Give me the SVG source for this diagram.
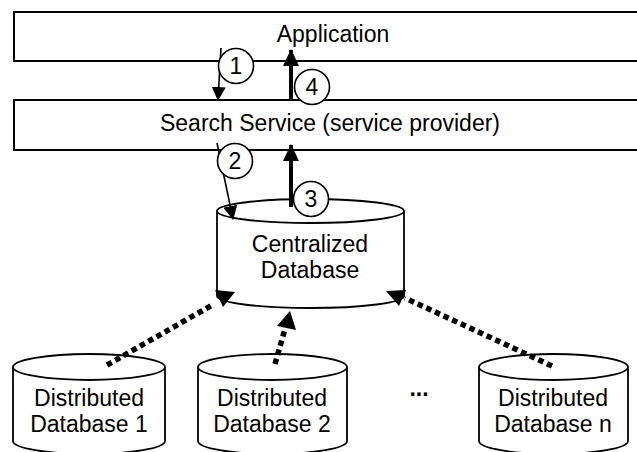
<svg xmlns="http://www.w3.org/2000/svg" width="637" height="452" viewBox="0 0 637 452">
<style>
.box{fill:#fff;stroke:#000;stroke-width:2}
.cyl{fill:#fff;stroke:#000;stroke-width:1.8}
.t{font-family:"Liberation Sans",Arial,sans-serif;font-size:23px;fill:#000;text-anchor:middle}
.c{fill:#fff;stroke:#000;stroke-width:1.6}
.thin{stroke:#000;stroke-width:1.6;fill:none}
.thick{stroke:#000;stroke-width:4;fill:none}
.dot{stroke:#000;stroke-width:5.5;stroke-dasharray:5.5 4;fill:none}
.head{fill:#000}
</style>
<defs>
<marker id="ah" markerUnits="userSpaceOnUse" viewBox="0 0 14 14" refX="13" refY="7" markerWidth="14" markerHeight="14" orient="auto"><path d="M0,0 L14,7 L0,14 z" fill="#000"/></marker>
<marker id="ahb" markerUnits="userSpaceOnUse" viewBox="0 0 17 16" refX="16" refY="8" markerWidth="17" markerHeight="16" orient="auto"><path d="M0,0 L17,8 L0,16 z" fill="#000"/></marker>
</defs>

<g id="application">
<rect class="box" x="14" y="12" width="700" height="49"/>
<text class="t" x="333" y="42">Application</text>
</g>
<g id="search-service">
<rect class="box" x="14" y="100" width="700" height="50"/>
<text class="t" x="330" y="131">Search Service (service provider)</text>
</g>
<g id="centralized-db">
<path class="cyl" d="M217,211 L217,296 A93.5,12 0 0 0 404,296 L404,211 A93.5,12 0 0 0 217,211 A93.5,12 0 0 0 404,211"/>
<text class="t" x="310" y="252">Centralized</text>
<text class="t" x="310" y="278">Database</text>
</g>
<g id="db1">
<path class="cyl" d="M13,367 L13,441 A76,13 0 0 0 165,441 L165,367 A76,13 0 0 0 13,367 A76,13 0 0 0 165,367"/>
<text class="t" x="89" y="406">Distributed</text>
<text class="t" x="89" y="432">Database 1</text>
</g>
<g id="db2">
<path class="cyl" d="M198,367 L198,441 A74.5,13 0 0 0 347,441 L347,367 A74.5,13 0 0 0 198,367 A74.5,13 0 0 0 347,367"/>
<text class="t" x="272" y="406">Distributed</text>
<text class="t" x="272" y="432">Database 2</text>
</g>
<g id="dbn">
<path class="cyl" d="M479,367 L479,441 A74.5,13 0 0 0 628,441 L628,367 A74.5,13 0 0 0 479,367 A74.5,13 0 0 0 628,367"/>
<text class="t" x="553" y="406">Distributed</text>
<text class="t" x="553" y="432">Database n</text>
</g>
<g id="ellipsis">
<text class="t" x="419" y="396" style="font-weight:bold">...</text>
</g>

<g id="connectors">
<line class="thin" x1="221" y1="48" x2="218" y2="100" marker-end="url(#ah)"/>
<line class="thick" x1="291" y1="100" x2="291" y2="50" marker-end="url(#ahb)"/>
<line class="thin" x1="217" y1="143" x2="233" y2="219" marker-end="url(#ah)"/>
<line class="thick" x1="291" y1="207" x2="291" y2="145" marker-end="url(#ahb)"/>
<line class="dot" x1="107" y1="365" x2="214" y2="304"/>
<polygon class="head" points="215,290 235,292 223,307"/>
<line class="dot" x1="275" y1="364" x2="285" y2="329"/>
<polygon class="head" points="290,311 277,326 296,330"/>
<line class="dot" x1="552" y1="366" x2="405" y2="298"/>
<polygon class="head" points="386,291 406,290 399,306"/>
</g>

<g id="step1"><circle class="c" cx="236" cy="66" r="17.5"/><text class="t" x="236" y="74">1</text></g>
<g id="step4"><circle class="c" cx="312" cy="87" r="17.5"/><text class="t" x="312" y="95">4</text></g>
<g id="step2"><circle class="c" cx="235" cy="161" r="17.5"/><text class="t" x="235" y="169">2</text></g>
<g id="step3"><circle class="c" cx="311" cy="199" r="17.5"/><text class="t" x="311" y="207">3</text></g>
</svg>
